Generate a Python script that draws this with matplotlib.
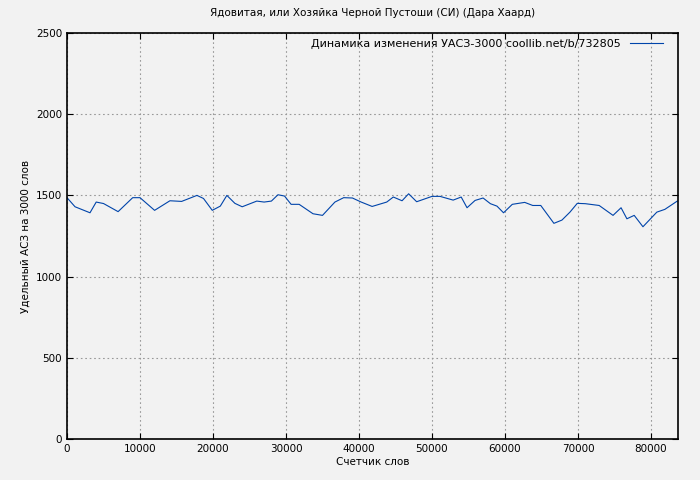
import matplotlib
matplotlib.use('Agg')
import matplotlib.pyplot as plt

words = [0, 1100, 3150, 4000, 5000, 7000, 9000, 10000, 12000, 14100, 15700, 17800, 18700,
         19900, 21000, 21900, 23000, 24000, 26000, 27000, 28000, 28900, 29800, 30700, 31800,
         33700, 35000, 36700, 37900, 39100, 40300, 41800, 43800, 44700, 45900, 46800, 47900,
         50000, 51100, 52900, 54000, 54800, 55900, 57000, 58000, 58900, 59800, 61000, 62700,
         63800, 64900, 66700, 67800, 68900, 69900, 71000, 72900, 74800, 75900, 76700, 77700,
         78900, 80800, 81900, 83600]
uas = [1486, 1430, 1393, 1459, 1450, 1400, 1486, 1486, 1408, 1467, 1463, 1500, 1481,
       1408, 1434, 1500, 1451, 1430, 1465, 1459, 1465, 1504, 1496, 1445, 1445,
       1387, 1377, 1459, 1486, 1484, 1459, 1432, 1459, 1490, 1467, 1510, 1461,
       1494, 1494, 1471, 1490, 1424, 1469, 1484, 1449, 1434, 1393, 1445, 1457,
       1438, 1438, 1328, 1348, 1397, 1451, 1449, 1438, 1377, 1424, 1356, 1377,
       1307, 1397, 1414, 1465]

fig = plt.figure(figsize=(7, 4.8), dpi=100, facecolor='#f2f2f2')
ax = fig.add_axes([67/700, 41/480, 611/700, 406/480])
ax.set_facecolor('#f2f2f2')
ax.plot(words, uas, color='#0044aa', lw=0.8,
        label='Динамика изменения УАСЗ-3000 coollib.net/b/732805')
ax.set_xlim(0, 83700)
ax.set_ylim(0, 2500)
ax.set_xticks(range(0, 83701, 10000))
ax.set_yticks(range(0, 2501, 500))
ax.grid(True, color='#999999', linestyle=(0, (1.5, 2.5)), lw=0.8)
ax.tick_params(labelsize=7.5, direction='in', length=4, top=True, right=True)
for s in ax.spines.values():
    s.set_linewidth(1.2)
ax.set_xlabel('Счетчик слов', fontsize=7.5, labelpad=2)
ax.set_ylabel('Удельный АСЗ на 3000 слов', fontsize=7.5)
ax.set_title('Ядовитая, или Хозяйка Черной Пустоши (СИ) (Дара Хаард)', fontsize=7.5, pad=12)
ax.legend(loc='upper right', fontsize=8, frameon=False, markerfirst=False,
          handlelength=3, borderaxespad=0.1, bbox_to_anchor=(0.985, 1.0))
fig.savefig('out.png', dpi=100, facecolor='#f2f2f2')
